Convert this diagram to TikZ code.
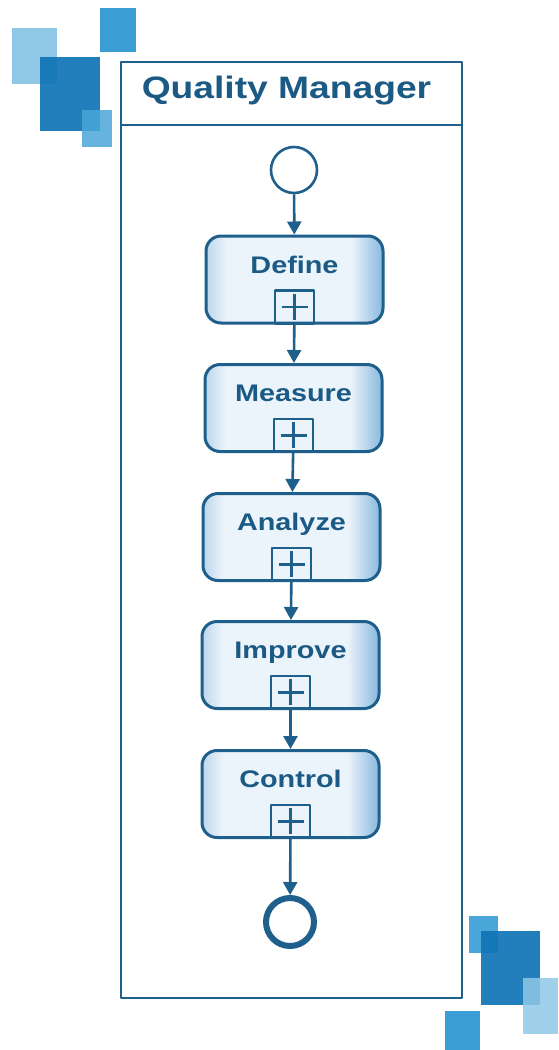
\documentclass[tikz,border=0pt]{standalone}
\usepackage{fontspec}
\newfontfamily\qmfont[FakeStretch=1.2]{Liberation Sans}
\usetikzlibrary{arrows.meta,positioning}

\definecolor{qmline}{HTML}{1F5F8B}
\definecolor{qmtext}{HTML}{1B5A84}
\definecolor{qmedgeL}{HTML}{BCD6EC}
\definecolor{qmfillM}{HTML}{ECF4FB}
\definecolor{qmedgeR}{HTML}{88B8DE}
\definecolor{sqlight}{HTML}{8FC8E6}
\definecolor{sqmid}{HTML}{3A9DD3}
\definecolor{sqdark}{HTML}{0F74B6}
\definecolor{sqsmall}{HTML}{4AA6D8}

% glow towards the left and right edges of a task
\pgfdeclarehorizontalshading{taskglow}{100bp}{color(0bp)=(qmedgeL); color(25bp)=(qmedgeL);
    color(31bp)=(qmfillM); color(66bp)=(qmfillM); color(75bp)=(qmedgeR); color(100bp)=(qmedgeR)}

\begin{document}
\begin{tikzpicture}[
    x=1pt, y=-1pt,
    >={Triangle[length=13pt,width=14pt]},
    line join=round,
    pool/.style={draw=qmline, line width=2.8pt},
    task/.style={draw=qmline, line width=3pt, rounded corners=15pt,
        minimum width=177pt, inner sep=0pt,
        text height=37pt, text depth=50pt,
        shading=taskglow, shading angle=0,
        font=\qmfont\bfseries\fontsize{24}{27}\selectfont, text=qmtext},
    marker/.style={draw=qmline, line width=2.5pt, minimum width=39pt,
        minimum height=33pt, inner sep=0pt, anchor=south,
        path picture={
            \draw[qmline, line width=2.5pt]
                ([xshift=-13pt]path picture bounding box.center) --
                ([xshift=13pt]path picture bounding box.center);
            \draw[qmline, line width=2.5pt]
                ([yshift=-13pt]path picture bounding box.center) --
                ([yshift=13pt]path picture bounding box.center);
        }},
    flow/.style={draw=qmline, line width=2.6pt, ->},
    startev/.style={circle, draw=qmline, line width=2.6pt, minimum size=46pt, inner sep=0pt, fill=white},
    endev/.style={circle, draw=qmline, line width=6pt, minimum size=48pt, inner sep=0pt, fill=white}
]

\useasboundingbox (0,0) rectangle (558,1050);

% Decorative squares, top left
\fill[sqlight] (12,28) rectangle (57,84);
\fill[sqmid] (100,8) rectangle (136,52);
\fill[sqdark, fill opacity=0.92] (40,57) rectangle (100,131);
\fill[sqsmall, fill opacity=0.85] (82,110) rectangle (112,147);

% Decorative squares, bottom right
\fill[sqsmall] (469,916) rectangle (498,953);
\fill[sqdark, fill opacity=0.92] (481,931) rectangle (540,1005);
\fill[sqlight, fill opacity=0.85] (523,978) rectangle (558,1034);
\fill[sqmid] (445,1011) rectangle (480,1050);

% Pool with header
\draw[pool, fill=white] (121,62) rectangle (462,998);
\draw[pool] (121,125) -- (462,125);
\node[anchor=base, font=\qmfont\bfseries\fontsize{31}{35}\selectfont, text=qmtext]
    (title) at (286.5,98) {Quality Manager};

% Events
\node[startev] (start) at (294,170) {};
\node[endev] (stop) at (290,922) {};

% Tasks
\node[task] (define)  at (294.5,279.5) {Define};
\node[task] (measure) at (293.5,408)   {Measure};
\node[task] (analyze) at (291.5,537)   {Analyze};
\node[task] (improve) at (290.5,665)   {Improve};
\node[task] (control) at (290.5,794)   {Control};

% Subprocess markers
\node[marker] (mdefine)  at (define.south)  {};
\node[marker] (mmeasure) at (measure.south) {};
\node[marker] (manalyze) at (analyze.south) {};
\node[marker] (mimprove) at (improve.south) {};
\node[marker] (mcontrol) at (control.south) {};

% Sequence flows
\draw[flow] (start) -- (define);
\draw[flow] (mdefine) -- (measure);
\draw[flow] (mmeasure) -- (analyze);
\draw[flow] (manalyze) -- (improve);
\draw[flow] (mimprove) -- (control);
\draw[flow] (mcontrol) -- (stop);

\end{tikzpicture}
\end{document}
